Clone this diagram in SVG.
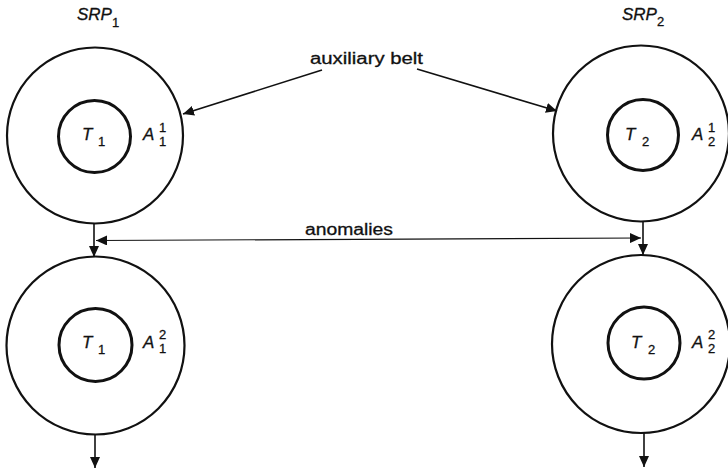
<svg xmlns="http://www.w3.org/2000/svg" width="728" height="473" viewBox="0 0 728 473">
  <style>
    .outer { fill: none; stroke: #111; stroke-width: 2.2; }
    .inner { fill: none; stroke: #111; stroke-width: 3; }
    .conn { fill: none; stroke: #111; stroke-width: 1.6; }
    .thin { fill: none; stroke: #111; stroke-width: 1.2; }
    .lbl { font-family: "Liberation Sans", Arial, sans-serif; fill: #111; stroke: #111; stroke-width: 0.3; }
    .it { font-style: italic; font-size: 17px; }
    .idx { font-style: normal; font-size: 13px; }
    .word { font-size: 16px; }
  </style>
  <defs>
    <marker id="arrow" markerUnits="userSpaceOnUse" markerWidth="11" markerHeight="10" refX="11" refY="5" orient="auto-start-reverse">
      <path d="M0,0 L11,5 L0,10 z" fill="#111"/>
    </marker>
  </defs>

  <!-- column headings -->
  <text class="lbl it" x="77" y="20">SRP<tspan class="idx" x="112" y="27" font-size="14">1</tspan></text>
  <text class="lbl it" x="622" y="20">SRP<tspan class="idx" x="657" y="26" font-size="14">2</tspan></text>

  <!-- research programme 1, stage 1 -->
  <g id="srp1-stage1">
    <circle class="outer" cx="95" cy="135.5" r="88"/>
    <circle class="inner" cx="94.5" cy="136.5" r="36"/>
    <text class="lbl it" x="82" y="140">T<tspan class="idx" x="98" y="146">1</tspan></text>
    <text class="lbl it" x="143" y="140">A<tspan class="idx" x="159" y="132">1</tspan><tspan class="idx" x="159" y="146">1</tspan></text>
  </g>

  <!-- research programme 2, stage 1 -->
  <g id="srp2-stage1">
    <circle class="outer" cx="641" cy="133.5" r="88"/>
    <circle class="inner" cx="643" cy="135" r="35.5"/>
    <text class="lbl it" x="625" y="140">T<tspan class="idx" x="642" y="146">2</tspan></text>
    <text class="lbl it" x="692" y="140">A<tspan class="idx" x="708" y="132">1</tspan><tspan class="idx" x="708" y="146">2</tspan></text>
  </g>

  <!-- research programme 1, stage 2 -->
  <g id="srp1-stage2">
    <circle class="outer" cx="95.5" cy="345.5" r="89"/>
    <circle class="inner" cx="95.5" cy="345" r="36.5"/>
    <text class="lbl it" x="82" y="348">T<tspan class="idx" x="98" y="354">1</tspan></text>
    <text class="lbl it" x="143" y="348">A<tspan class="idx" x="159" y="339">2</tspan><tspan class="idx" x="159" y="353">1</tspan></text>
  </g>

  <!-- research programme 2, stage 2 -->
  <g id="srp2-stage2">
    <circle class="outer" cx="641" cy="344" r="89"/>
    <circle class="inner" cx="644" cy="343" r="36"/>
    <text class="lbl it" x="631" y="348">T<tspan class="idx" x="648" y="354">2</tspan></text>
    <text class="lbl it" x="692" y="348">A<tspan class="idx" x="708" y="339">2</tspan><tspan class="idx" x="708" y="353">2</tspan></text>
  </g>

  <!-- labels on the connectors -->
  <text class="lbl word" x="310" y="64" textLength="113" lengthAdjust="spacingAndGlyphs">auxiliary belt</text>
  <text class="lbl word" x="305" y="235" textLength="88" lengthAdjust="spacingAndGlyphs">anomalies</text>

  <g id="connectors">
    <!-- auxiliary belt pointers -->
    <line class="conn" x1="322" y1="70" x2="183" y2="114" marker-end="url(#arrow)"/>
    <line class="conn" x1="417" y1="69" x2="557" y2="111" marker-end="url(#arrow)"/>
    <!-- anomalies, both ways -->
    <line class="thin" x1="96" y1="240.5" x2="641" y2="238" marker-start="url(#arrow)" marker-end="url(#arrow)"/>
    <!-- stage to stage -->
    <line class="conn" x1="94" y1="223" x2="94" y2="257" marker-end="url(#arrow)"/>
    <line class="conn" x1="643" y1="222" x2="643" y2="255" marker-end="url(#arrow)"/>
    <!-- onward -->
    <line class="conn" x1="95" y1="434" x2="95" y2="468" marker-end="url(#arrow)"/>
    <line class="conn" x1="644" y1="433" x2="644" y2="467" marker-end="url(#arrow)"/>
  </g>
</svg>
